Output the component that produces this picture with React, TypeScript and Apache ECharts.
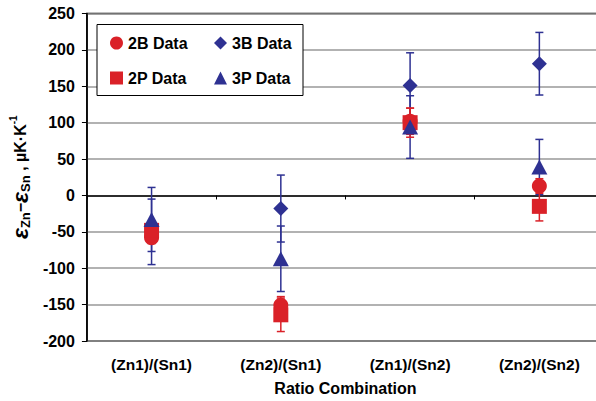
import React, { useEffect, useRef } from "react";
import * as echarts from "echarts";

const categories = ["(Zn1)/(Sn1)", "(Zn2)/(Sn1)", "(Zn1)/(Sn2)", "(Zn2)/(Sn2)"];
const b2 = [-58, -151, 102, 13];
const b2Err = [8, 12, 18, 10];
const p2 = [-48, -164, 100, -15];
const p2Err = [8, 23, 20, 20];
const b3 = [-50, -18, 151, 181];
const b3Err = [45, 46, 45, 43];
const p3 = [-33, -87, 94, 39];
const p3Err = [44, 45, 43, 38];
const yMin = -200;
const yMax = 250;
const yStep = 50;

const RED = "#da2128";
const BLUE = "#2e3192";
const FONT = "Liberation Sans, Arial, sans-serif";

function errData(vals: number[], errs: number[]) {
  return vals.map((v, i) => [i, v - errs[i], v + errs[i]]);
}

function errSeries(name: string, vals: number[], errs: number[], color: string) {
  return {
    type: "custom",
    name: name + " err",
    data: errData(vals, errs),
    z: 1,
    silent: true,
    renderItem: (params: any, api: any) => {
      const x = api.value(0);
      const lo = api.coord([x, api.value(1)]);
      const hi = api.coord([x, api.value(2)]);
      const h = 4;
      const st = { stroke: color, lineWidth: 1.5 };
      return {
        type: "group",
        children: [
          { type: "line", shape: { x1: lo[0], y1: lo[1], x2: hi[0], y2: hi[1] }, style: st },
          { type: "line", shape: { x1: lo[0] - h, y1: lo[1], x2: lo[0] + h, y2: lo[1] }, style: st },
          { type: "line", shape: { x1: hi[0] - h, y1: hi[1], x2: hi[0] + h, y2: hi[1] }, style: st },
        ],
      };
    },
  };
}

function scatter(name: string, vals: number[], symbol: string, size: any, color: string, z: number) {
  return {
    type: "scatter",
    name,
    data: vals,
    symbol,
    symbolSize: size,
    itemStyle: { color, opacity: 1 },
    z,
  };
}

export default function App() {
  const ref = useRef<HTMLDivElement>(null);
  useEffect(() => {
    if (!ref.current) return;
    const chart = echarts.init(ref.current, undefined, { renderer: "svg" });
    const legendText = { fontFamily: FONT, fontWeight: "bold", fontSize: 16, color: "#000" };
    chart.setOption({
      animation: false,
      backgroundColor: "#fff",
      grid: {
        left: 82,
        right: 0,
        top: 13.5,
        bottom: 56,
        show: true,
        borderColor: "#000",
        borderWidth: 1.5,
        backgroundColor: "transparent",
      },
      graphic: [
        {
          type: "rect",
          shape: { x: 97, y: 24.5, width: 206, height: 71 },
          style: { fill: "#fff", stroke: "#000", lineWidth: 1 },
          z: 5,
        },
      ],
      legend: [
        {
          orient: "vertical",
          left: 110,
          top: 35,
          itemGap: 19,
          itemWidth: 13,
          itemHeight: 13,
          padding: 0,
          textStyle: legendText,
          z: 10,
          data: [
            { name: "2B Data", icon: "circle" },
            { name: "2P Data", icon: "rect" },
          ],
        },
        {
          orient: "vertical",
          left: 214,
          top: 35,
          itemGap: 19,
          itemWidth: 13,
          itemHeight: 13,
          padding: 0,
          textStyle: legendText,
          z: 10,
          data: [
            { name: "3B Data", icon: "diamond" },
            { name: "3P Data", icon: "triangle" },
          ],
        },
      ],
      xAxis: {
        type: "category",
        data: categories,
        boundaryGap: true,
        axisLine: { lineStyle: { color: "#000", width: 1.5 } },
        axisTick: { show: true, length: 4, interval: 0, lineStyle: { color: "#000", width: 1 } },
        axisLabel: { fontFamily: FONT, fontWeight: "bold", fontSize: 15.5, color: "#000", margin: 15, interval: 0 },
        splitLine: { show: false },
        name: "Ratio Combination",
        nameLocation: "middle",
        nameGap: 39,
        nameTextStyle: { fontFamily: FONT, fontWeight: "bold", fontSize: 16, color: "#000" },
      },
      yAxis: {
        type: "value",
        min: yMin,
        max: yMax,
        interval: yStep,
        axisLine: { show: true, lineStyle: { color: "#000", width: 1.5 } },
        axisTick: { show: true, length: 5, lineStyle: { color: "#000", width: 1 } },
        axisLabel: { fontFamily: FONT, fontWeight: "bold", fontSize: 16, color: "#000", margin: 12 },
        splitLine: { show: true, lineStyle: { color: "#999", width: 1.5 } },
        name: "{e|ε}{s|Zn}{m|−}{e|ε}{s|Sn}{m| , µK·K}{u|-1}",
        nameLocation: "middle",
        nameRotate: 90,
        nameGap: 40,
        nameTextStyle: {
          fontFamily: FONT,
          fontWeight: "bold",
          color: "#000",
          rich: {
            e: { fontFamily: FONT, fontWeight: "bold", fontStyle: "italic", fontSize: 23, lineHeight: 24, color: "#000" },
            s: { fontFamily: FONT, fontWeight: "bold", fontSize: 13, lineHeight: 13, verticalAlign: "bottom", color: "#000" },
            m: { fontFamily: FONT, fontWeight: "bold", fontSize: 16, lineHeight: 24, color: "#000" },
            u: { fontFamily: FONT, fontWeight: "bold", fontSize: 10, lineHeight: 10, verticalAlign: "top", color: "#000" },
          },
        },
      },
      series: [
        errSeries("3B Data", b3, b3Err, BLUE),
        errSeries("3P Data", p3, p3Err, BLUE),
        errSeries("2B Data", b2, b2Err, RED),
        errSeries("2P Data", p2, p2Err, RED),
        scatter("3B Data", b3, "diamond", 15, BLUE, 2),
        scatter("2B Data", b2, "circle", 15, RED, 3),
        scatter("2P Data", p2, "rect", 15, RED, 4),
        scatter("3P Data", p3, "triangle", [16, 15], BLUE, 5),
      ],
    });
    return () => chart.dispose();
  }, []);
  return (
    <div style={{ position: "absolute", left: 0, top: 0, width: 596, height: 401, overflow: "hidden" }}>
      <div ref={ref} style={{ width: 604, height: 401 }} />
    </div>
  );
}
